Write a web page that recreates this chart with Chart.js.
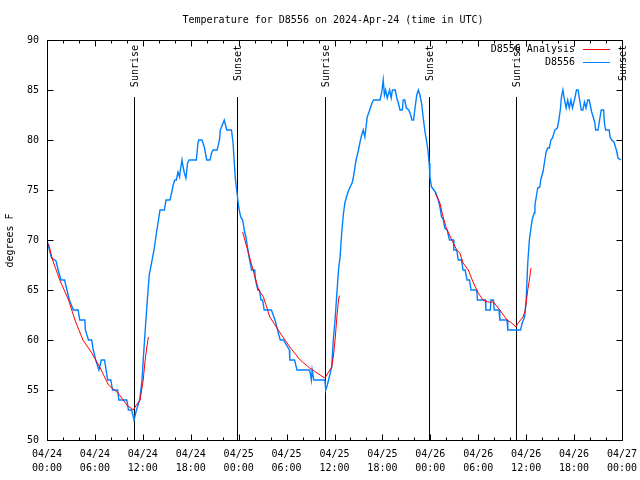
<!DOCTYPE html>
<html>
<head>
<meta charset="utf-8">
<script src="https://cdn.jsdelivr.net/npm/chart.js@4.4.1/dist/chart.umd.min.js"></script>
<style>
  html, body { margin: 0; padding: 0; background: #ffffff; }
  #wrap { width: 640px; height: 480px; }
</style>
</head>
<body>
<div id="wrap"><canvas id="c" width="640" height="480"></canvas></div>
<script>
// ---- Data (hours since 2024-04-24 00:00 UTC) ----
const chartTitle = "Temperature for D8556 on 2024-Apr-24 (time in UTC)";
const yAxisTitle = "degrees F";
const obsLabel = "D8556";
const anaLabel = "D8556 Analysis";

const xTickDates = ["04/24","04/24","04/24","04/24","04/25","04/25","04/25","04/25","04/26","04/26","04/26","04/26","04/27"];
const xTickTimes = ["00:00","06:00","12:00","18:00","00:00","06:00","12:00","18:00","00:00","06:00","12:00","18:00","00:00"];
const yTicks = [50, 55, 60, 65, 70, 75, 80, 85, 90];

const obsHours = [0,0.3,0.58,1.13,1.4,1.75,2.2,2.5,2.8,3.3,3.9,4.1,4.75,4.8,5.2,5.6,5.8,6.1,6.5,6.8,7.2,7.6,8.0,8.2,8.85,9.0,10.0,10.2,10.6,10.9,11.2,11.6,11.9,12.05,12.3,12.5,12.8,
  13.4,13.7,13.9,14.15,14.7,14.9,15.4,15.6,15.8,16.0,16.2,16.4,16.6,16.7,16.9,17.0,17.2,17.4,17.6,17.8,18.7,18.9,19.0,19.4,19.7,20.0,20.4,20.65,20.8,21.3,21.6,21.7,22.0,22.2,22.5,23.1,23.3,23.45,23.6,23.8,
  24.0,24.25,24.5,24.7,24.9,25.1,25.3,25.5,25.6,26.0,26.1,26.4,26.6,26.8,27.0,27.2,28.1,28.55,29.2,29.6,30.35,30.4,31.0,31.3,32.9,33.1,33.2,33.4,34.8,34.9,35.1,35.35,35.65,35.85,36.07,36.3,36.5,36.7,36.9,
  37.1,37.3,37.5,37.7,37.9,38.2,38.35,38.7,39.0,39.2,39.4,39.6,39.8,39.95,40.1,40.4,40.7,40.9,41.7,41.9,42.1,42.25,42.4,42.6,42.9,43.1,43.25,43.6,43.8,44.0,44.2,44.5,44.6,44.8,45.0,45.3,45.45,45.7,45.9,
  46.1,46.3,46.5,46.7,46.9,47.1,47.3,47.5,47.7,47.85,47.95,48.15,48.45,48.7,49.0,49.2,49.4,49.6,49.8,50.1,50.4,50.9,50.95,51.3,51.5,51.9,52.1,52.35,52.6,52.9,53.1,53.8,53.9,54.9,54.95,55.5,55.6,55.9,56.0,
  56.6,56.7,57.6,57.7,59.3,59.5,59.8,60.0,60.2,60.4,60.6,60.75,61.0,61.1,61.3,61.45,61.7,61.85,62.1,62.3,62.5,62.7,62.9,63.1,63.3,63.6,63.9,64.1,64.3,64.4,64.6,64.8,65.0,65.2,65.4,65.6,65.8,66.1,66.3,
  66.5,66.7,66.9,67.1,67.3,67.5,67.7,67.9,68.2,68.4,68.6,68.7,69.0,69.2,69.4,69.7,69.8,69.95,70.4,70.5,70.7,71.0,71.3,71.5,71.85];
const obsTemps = [70,69,68.2,67.9,67,66,66,65,64,63,63,62,62,61,60,60,59,58,57,58,58,56,56,55,55,54,54,53,53,52,53,54,56,58,61,63.3,66.5,
  69,70.7,71.7,73,73,74,74,74.7,75.5,76,76,76.8,76.3,77,78,77.5,76.7,76.2,77.7,78,78,79.7,80,80,79.3,78,78,78.8,79,79,80,81,81.6,82,81,81,79.7,77.7,76,74.7,
  73.3,72.3,72,71,70.3,69.3,68.3,67.5,67,67,66,65,65,64,64,63,63,62,60,60,59,58,58,57,57,56,57,56,56,55,55.5,56.3,57.3,60,62,64.7,67,68.3,70.7,
  72.5,73.7,74.3,74.8,75.2,75.7,76.2,78,79,79.8,80.5,81,80.3,81.3,82.3,83,83.7,84,84,84.7,86,84.5,85,84.2,85,84.2,85,85,84.2,83.7,83,83,84,84,83.2,83,82.7,82,82,
  83.3,84.5,85,84.5,83.7,82.3,81,80,79,77.7,76.3,75.3,75,74.7,74,73.3,72.3,72.1,71.2,71,70,70,69,69,68,68,67,67,66,66,65,65,64,64,63,63,64,64,63,
  63,62,62,61,61,61.7,62.3,64,67.7,70,71.2,72,72.7,73.5,74.5,75.2,75.3,76.1,76.8,77.8,78.8,79.2,79.2,80,80.2,81,81.2,82,83.2,84.2,85,84,83.2,84,83.2,84,83.2,84.2,85,
  85,84,83,83,83.8,83.2,84,84,82.8,82.3,81.7,81,81,82,83,83,81.7,81,81,80.3,80,79.8,79,78.2,78];

const anaHours = [0.2,0.7,1.6,2.7,3.5,4.5,5.6,6.6,7.7,8.9,10.0,10.8,11.2,11.65,11.85,12.05,12.25,12.5,12.7,
  18,
  24.5,25.7,26.5,27.1,27.9,29.2,30.4,31.7,32.9,34.2,34.8,35.1,35.65,35.85,36.07,36.3,36.5,36.6,36.7,
  42,
  48.6,49.2,49.6,50.0,50.7,51.3,51.7,52.1,52.75,53.4,54.0,54.6,55.2,55.9,56.7,57.6,58.2,58.7,59.0,59.6,59.9,60.2,60.4,60.6];
const anaTemps = [69.6,68,66,64,62,60,58.7,57.3,55.5,54.7,53.5,53,53.5,54,55,56,57.7,59.3,60.3,
  null,
  70.8,67.3,65,64.3,62.3,60.7,59.3,58,57.2,56.5,56.2,56.6,57.3,58.3,60,62.3,64,64.4,64.4,
  null,
  74.7,73.7,72.3,71.2,70,69,68.7,67.7,67,65.7,64.7,64,63.8,63.8,63,62,61.7,61.3,61.7,62.3,63,65,66,67.2];

const sunNames = ["Sunrise","Sunset","Sunrise","Sunset","Sunrise","Sunset"];
const sunHours = [10.9, 23.83, 34.85, 47.87, 58.77, 71.98];
const sunLineTopTemp = 84.3;

// ---- Build points ----
const obsPoints = obsHours.map((h, i) => ({ x: h, y: obsTemps[i] }));
const anaPoints = anaHours.map((h, i) => ({ x: h, y: anaTemps[i] }));

const FONT = '"DejaVu Sans Mono", "Liberation Mono", monospace';

const gnuplotPlugin = {
  id: 'gnuplotDecor',
  beforeDatasetsDraw(chart) {
    const ctx = chart.ctx, xs = chart.scales.x, ys = chart.scales.y;
    ctx.save();
    ctx.strokeStyle = '#000';
    ctx.lineWidth = 1;
    const yBot = Math.round(ys.getPixelForValue(ys.min));
    const yTop = Math.round(ys.getPixelForValue(sunLineTopTemp));
    ctx.font = '10px ' + FONT;
    ctx.fillStyle = '#000';
    sunHours.forEach((h, i) => {
      const x = Math.round(xs.getPixelForValue(h)) + 0.5;
      ctx.beginPath();
      ctx.moveTo(x, yBot);
      ctx.lineTo(x, yTop);
      ctx.stroke();
      ctx.save();
      ctx.translate(x + 1, chart.chartArea.top + 5);
      ctx.rotate(-Math.PI / 2);
      ctx.textAlign = 'right';
      ctx.textBaseline = 'middle';
      ctx.fillText(sunNames[i], 0, 0);
      ctx.restore();
    });
    ctx.restore();
  },
  afterDatasetsDraw(chart) {
    const ctx = chart.ctx, xs = chart.scales.x, ys = chart.scales.y;
    const a = chart.chartArea;
    const L = Math.round(a.left) + 0.5, R = Math.round(a.right) + 0.5;
    const T = Math.round(a.top) + 0.5, B = Math.round(a.bottom) + 0.5;
    ctx.save();
    ctx.strokeStyle = '#000';
    ctx.lineWidth = 1;
    ctx.strokeRect(L, T, R - L, B - T);
    ctx.beginPath();
    yTicks.forEach(v => {
      const y = Math.round(ys.getPixelForValue(v)) + 0.5;
      ctx.moveTo(L, y); ctx.lineTo(L + 6, y);
      ctx.moveTo(R, y); ctx.lineTo(R - 6, y);
    });
    for (let h = 0; h <= 72; h += 2) {
      const x = Math.round(xs.getPixelForValue(h)) + 0.5;
      const len = (h % 6 === 0) ? 6 : 3;
      ctx.moveTo(x, B); ctx.lineTo(x, B - len);
      ctx.moveTo(x, T); ctx.lineTo(x, T + len);
    }
    ctx.stroke();

    ctx.fillStyle = '#000';
    ctx.font = '10px ' + FONT;
    ctx.textAlign = 'center';
    ctx.textBaseline = 'middle';
    ctx.fillText(chartTitle, 333, 20);
    ctx.save();
    ctx.translate(10, (T + B) / 2);
    ctx.rotate(-Math.PI / 2);
    ctx.textAlign = 'center';
    ctx.textBaseline = 'middle';
    ctx.fillText(yAxisTitle, 0, 0);
    ctx.restore();
    const ds = chart.data.datasets;
    ds.forEach((d, i) => {
      const y = 49 + i * 13;
      ctx.textAlign = 'right';
      ctx.textBaseline = 'middle';
      ctx.fillStyle = '#000';
      ctx.fillText(d.label, 575, y);
      ctx.strokeStyle = d.borderColor;
      ctx.lineWidth = 1;
      ctx.beginPath();
      ctx.moveTo(583, Math.round(y) + 0.5);
      ctx.lineTo(610, Math.round(y) + 0.5);
      ctx.stroke();
    });
    ctx.restore();
  }
};

new Chart(document.getElementById('c'), {
  type: 'line',
  data: {
    datasets: [
      { label: anaLabel, data: anaPoints, borderColor: '#ff0000', borderWidth: 1, pointRadius: 0, fill: false, spanGaps: false, tension: 0 },
      { label: obsLabel, data: obsPoints, borderColor: '#0080ff', borderWidth: 1.4, pointRadius: 0, fill: false, tension: 0 }
    ]
  },
  options: {
    responsive: false,
    animation: false,
    devicePixelRatio: 1,
    layout: { padding: { left: 0, right: 18, top: 40, bottom: 0 } },
    plugins: { legend: { display: false }, title: { display: false }, tooltip: { enabled: false } },
    scales: {
      x: {
        type: 'linear', min: 0, max: 72,
        grid: { display: false, drawTicks: false },
        border: { display: false },
        afterFit(s) { s.height = 40; s.paddingLeft = 0; s.paddingRight = 0; },
        afterBuildTicks(s) { s.ticks = xTickDates.map((d, i) => ({ value: i * 6 })); },
        ticks: {
          autoSkip: false, maxRotation: 0, padding: 7, color: '#000',
          font: { family: FONT, size: 10, lineHeight: 1.4 },
          callback: (v, i) => [xTickDates[i], xTickTimes[i]]
        }
      },
      y: {
        min: 50, max: 90,
        grid: { display: false, drawTicks: false },
        border: { display: false },
        afterFit(s) { s.width = 47; s.paddingTop = 0; s.paddingBottom = 0; },
        afterBuildTicks(s) { s.ticks = yTicks.map(v => ({ value: v })); },
        ticks: { padding: 8, color: '#000', font: { family: FONT, size: 10 } }
      }
    }
  },
  plugins: [gnuplotPlugin]
});
</script>
</body>
</html>
